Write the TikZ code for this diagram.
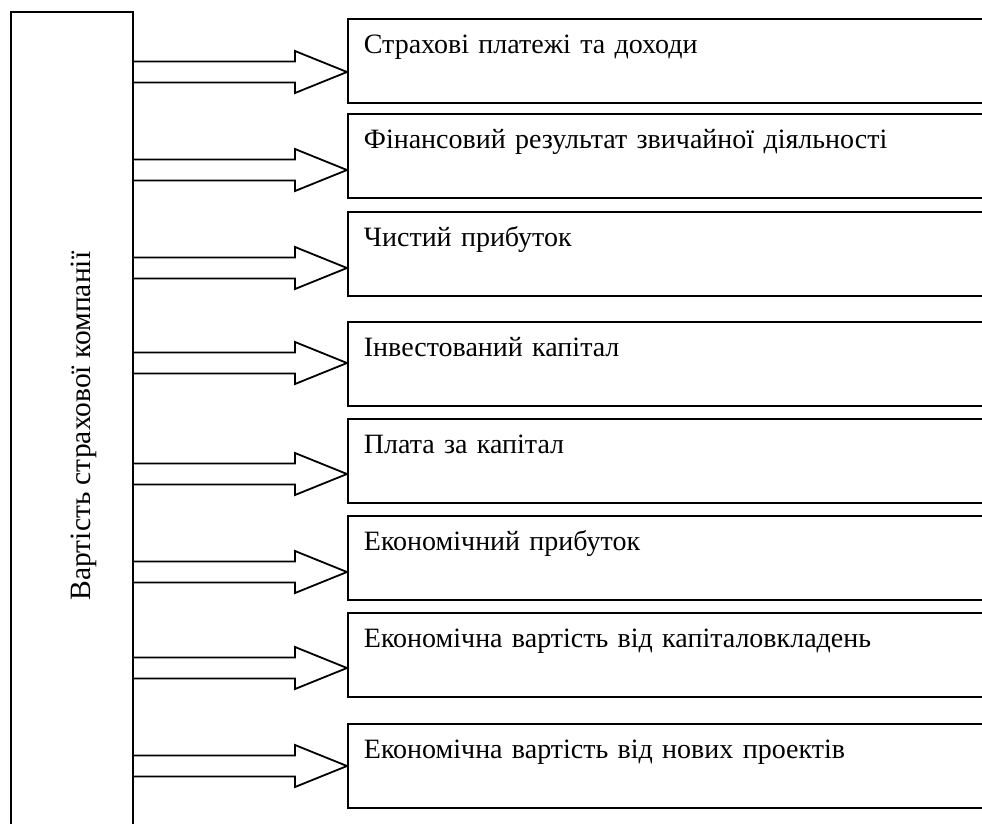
\documentclass[tikz,border=0pt]{standalone}
\usepackage{fontspec}
\setmainfont{Liberation Serif}
\usetikzlibrary{positioning,calc}

\begin{document}
\begin{tikzpicture}[x=1pt, y=-1pt, line width=1.8pt]
\tikzset{CompanyStyle/.style = {draw, anchor=north west, minimum width=122pt, minimum height=840pt}}
\tikzset{BoxStyle/.style = {draw, anchor=north west, minimum width=700pt, text width=668pt, inner xsep=16pt, inner ysep=17pt,
  text height=18pt, text depth=32pt, align=left, font=\fontsize{28}{32}\selectfont}}
\tikzset{TitleStyle/.style = {rotate=90, anchor=base, font=\fontsize{29.5}{33}\selectfont}}
\tikzset{ArrowStyle/.style = {line join=miter}}
  \useasboundingbox (0,0) rectangle (982,823);
  \clip (0,0) rectangle (982,823);
	\node[CompanyStyle] (comp) at (10,11) {};
	\node[TitleStyle] (title) at (90,426) {Вартість страхової компанії};
	\node[BoxStyle] (b1) at (347,18) {Страхові платежі та доходи};
	\node[BoxStyle] (b2) at (347,113) {Фінансовий результат звичайної діяльності};
	\node[BoxStyle] (b3) at (347,211) {Чистий прибуток};
	\node[BoxStyle] (b4) at (347,321) {Інвестований капітал};
	\node[BoxStyle] (b5) at (347,418) {Плата за капітал};
	\node[BoxStyle] (b6) at (347,515) {Економічний прибуток};
	\node[BoxStyle] (b7) at (347,612) {Економічна вартість від капіталовкладень};
	\node[BoxStyle] (b8) at (347,723) {Економічна вартість від нових проектів};
	% open arrows from the company box
	\foreach \b/\off in {b1/54, b2/57, b3/57, b4/42, b5/56, b6/57, b7/56, b8/43}{
	  \coordinate (tip) at ($(\b.north west)+(0,\off)$);
	  \draw[ArrowStyle] ($(comp.east |- tip)+(0,-10.5)$) -- ($(tip)+(-52,-10.5)$)
	    -- ($(tip)+(-52,-21)$) -- (tip) -- ($(tip)+(-52,21)$)
	    -- ($(tip)+(-52,10.5)$) -- ($(comp.east |- tip)+(0,10.5)$);
	}
\end{tikzpicture}
\end{document}
